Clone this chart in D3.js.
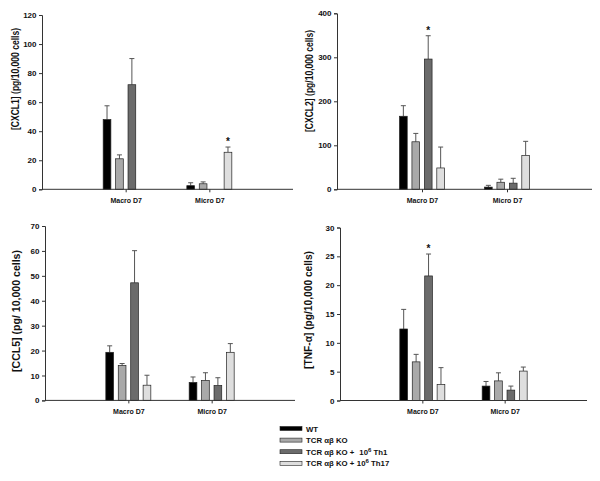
<!DOCTYPE html>
<html>
<head>
<meta charset="utf-8">
<script src="https://cdn.jsdelivr.net/npm/d3@7"></script>
<style>
  body { margin: 0; background: #fff; }
  svg text { font-family: "Liberation Sans", Arial, sans-serif; font-weight: bold; fill: #111; }
</style>
</head>
<body>
<svg id="chart" width="600" height="481"></svg>
<script>
  // ---- Data ----
  const categories = ["Macro D7", "Micro D7"];
  const series = ["WT", "TCR αβ KO", "TCR αβ KO + 10^6 Th1", "TCR αβ KO + 10^6 Th17"];

  // values per category: [WT, KO, KO+Th1, KO+Th17]; null = not shown
  const cxcl1Values = [[48, 21, 72, null], [2.5, 3.8, null, 25.5]];
  const cxcl1Errors = [[9.5, 2.7, 18, null], [2, 1.3, null, 3.6]];
  const cxcl2Values = [[166, 108, 296, 48.5], [5, 16, 14, 77]];
  const cxcl2Errors = [[24, 19, 53, 47.5], [4, 7, 11, 32]];
  const ccl5Values = [[19.3, 14, 47.2, 6.1], [7.2, 8, 6, 19.3]];
  const ccl5Errors = [[2.6, 0.8, 12.9, 4], [2.2, 3.1, 3.1, 3.5]];
  const tnfValues = [[12.4, 6.7, 21.6, 2.8], [2.5, 3.4, 1.8, 5.1]];
  const tnfErrors = [[3.4, 1.3, 3.8, 2.9], [0.8, 1.4, 0.7, 0.7]];

  // significance markers: [categoryIndex, seriesIndex]
  const cxcl1Stars = [[1, 3]];
  const cxcl2Stars = [[0, 2]];
  const ccl5Stars = [];
  const tnfStars = [[0, 2]];

  const yTicks1 = [0, 20, 40, 60, 80, 100, 120];
  const yTicks2 = [0, 100, 200, 300, 400];
  const yTicks3 = [0, 10, 20, 30, 40, 50, 60, 70];
  const yTicks4 = [0, 5, 10, 15, 20, 25, 30];

  const fills = ["#000000", "#a9a9a9", "#6b6b6b", "#dedede"];

  const svg = d3.select("#chart");

  function drawPanel(p) {
    const g = svg.append("g");
    const x = d3.scalePoint().domain(categories).range([p.x0, p.x1]).padding(1);
    const xs = d3.scaleBand().domain(series).range([-22.5, 22.5]).paddingInner(0.38);
    const y = d3.scaleLinear().domain([0, p.max]).range([p.y0, p.yTop]);

    const rows = [];
    categories.forEach((c, ci) => {
      series.forEach((s, si) => {
        const v = p.values[ci][si];
        if (v == null) return;
        rows.push({ c, s, ci, si, v, e: p.errors[ci][si] });
      });
    });

    // error bars (upper only)
    const eg = g.append("g").attr("stroke", "#555").attr("stroke-width", 1);
    rows.forEach((d) => {
      const cx = x(d.c) + xs(d.s) + xs.bandwidth() / 2;
      eg.append("line").attr("x1", cx).attr("x2", cx).attr("y1", y(d.v)).attr("y2", y(d.v + d.e));
      eg.append("line").attr("x1", cx - 2.5).attr("x2", cx + 2.5).attr("y1", y(d.v + d.e)).attr("y2", y(d.v + d.e));
    });

    // bars
    g.append("g")
      .selectAll("rect")
      .data(rows)
      .join("rect")
      .attr("x", (d) => x(d.c) + xs(d.s))
      .attr("y", (d) => y(d.v))
      .attr("width", xs.bandwidth())
      .attr("height", (d) => y(0) - y(d.v))
      .attr("fill", (d) => fills[d.si])
      .attr("stroke", "#222")
      .attr("stroke-width", 0.7);

    // stars
    p.stars.forEach(([ci, si]) => {
      const c = categories[ci], s = series[si];
      const cx = x(c) + xs(s) + xs.bandwidth() / 2;
      g.append("text")
        .attr("x", cx)
        .attr("y", y(p.values[ci][si] + p.errors[ci][si]) - 2)
        .attr("text-anchor", "middle")
        .attr("font-size", 10)
        .text("*");
    });

    // y axis
    const yAxis = d3.axisLeft(y).tickValues(p.ticks).tickSize(3).tickPadding(2.5);
    const ya = g.append("g").attr("transform", `translate(${p.x0},0)`).call(yAxis);
    ya.select(".domain").attr("stroke", "#333");
    ya.selectAll(".tick line").attr("stroke", "#333");
    ya.selectAll("text").attr("font-size", 8).attr("font-family", null).style("font-weight", "bold");

    // x axis
    const xAxis = d3.axisBottom(x).tickSize(3).tickPadding(6).tickSizeOuter(0);
    const xa = g.append("g").attr("transform", `translate(0,${p.y0})`).call(xAxis);
    xa.select(".domain").attr("stroke", "#333").attr("d", `M${p.x0},0H${p.x1}`);
    xa.selectAll(".tick line").attr("stroke", "#333");
    xa.selectAll("text").attr("font-size", 7).attr("font-family", null).style("font-weight", "bold");

    // y label
    g.append("text")
      .attr("transform", `translate(${p.labelX},${p.labelY}) rotate(-90)`)
      .attr("text-anchor", "middle")
      .attr("font-size", p.labelSize)
      .attr("textLength", p.labelLen)
      .attr("lengthAdjust", "spacingAndGlyphs")
      .text(p.label);
  }

  drawPanel({ x0: 42, x1: 293, y0: 189.3, yTop: 15, max: 120, ticks: yTicks1,
    values: cxcl1Values, errors: cxcl1Errors, stars: cxcl1Stars,
    label: "[CXCL1] (pg/10,000 cells)", labelX: 19, labelY: 79, labelSize: 10, labelLen: 102 });
  drawPanel({ x0: 337, x1: 592, y0: 189.3, yTop: 13.3, max: 400, ticks: yTicks2,
    values: cxcl2Values, errors: cxcl2Errors, stars: cxcl2Stars,
    label: "[CXCL2] (pg/10,000 cells)", labelX: 313, labelY: 81, labelSize: 10, labelLen: 102 });
  drawPanel({ x0: 45, x1: 295, y0: 400.4, yTop: 226, max: 70, ticks: yTicks3,
    values: ccl5Values, errors: ccl5Errors, stars: ccl5Stars,
    label: "[CCL5] (pg/ 10,000 cells)", labelX: 20, labelY: 311, labelSize: 10, labelLen: 122 });
  drawPanel({ x0: 340, x1: 587, y0: 400.5, yTop: 227.5, max: 30, ticks: yTicks4,
    values: tnfValues, errors: tnfErrors, stars: tnfStars,
    label: "[TNF-α] (pg/10,000 cells)", labelX: 312, labelY: 310, labelSize: 10, labelLen: 118 });

  // ---- Legend ----
  const legend = svg.append("g").attr("transform", "translate(280,428.5)");
  series.forEach((s, i) => {
    const row = legend.append("g").attr("transform", `translate(0,${i * 11.6})`);
    row.append("rect")
      .attr("x", 0).attr("y", -2).attr("width", 22).attr("height", 4)
      .attr("fill", fills[i]).attr("stroke", "#222").attr("stroke-width", 0.6);
    const t = row.append("text").attr("x", 26).attr("y", 3).attr("font-size", 7.8);
    const parts = s.split("10^6");
    t.append("tspan").text(parts[0].trim());
    if (parts.length > 1) {
      t.append("tspan").attr("dx", i === 2 ? 5 : 2.5).text("10");
      t.append("tspan").attr("dy", -3).attr("font-size", 6).text("6");
      t.append("tspan").attr("dy", 3).text(parts[1]);
    }
  });
</script>
</body>
</html>
